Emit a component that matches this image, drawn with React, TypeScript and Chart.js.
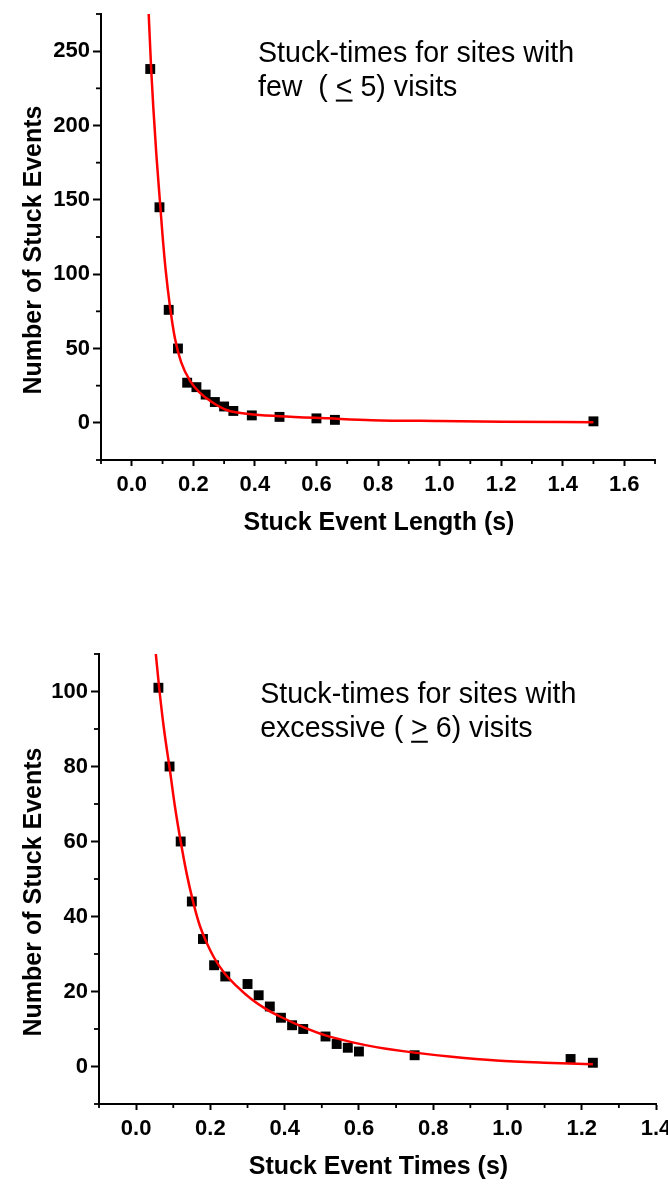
import React, { useEffect, useRef } from 'react';
import { Chart, registerables } from 'chart.js';

Chart.register(...registerables);

// Upper panel: stuck-event lengths for sites with few visits
const fewTimes = [0.06, 0.09, 0.12, 0.15, 0.18, 0.21, 0.24, 0.27, 0.3, 0.33, 0.39, 0.48, 0.6, 0.66, 1.5];
const fewCounts = [238, 145, 76, 50, 27, 24, 19, 14, 11, 8, 5, 4, 3, 2, 1];
const fewFitTimes = [0.055, 0.063, 0.07, 0.08, 0.093, 0.1, 0.11, 0.123, 0.14, 0.16, 0.19, 0.22, 0.26, 0.31, 0.38, 0.48, 0.64, 0.78, 1.0, 1.2, 1.5];
const fewFitCounts = [275, 238, 212, 180, 145, 126, 103, 80, 57, 41, 28, 20.5, 14, 8.5, 6, 4.5, 3, 1.8, 1.2, 0.8, 0.4];
const fewXTicks = [0, 0.2, 0.4, 0.6, 0.8, 1.0, 1.2, 1.4, 1.6];
const fewXMinor = [-0.1, 0.1, 0.3, 0.5, 0.7, 0.9, 1.1, 1.3, 1.5, 1.7];
const fewYTicks = [0, 50, 100, 150, 200, 250];
const fewYMinor = [-25, 25, 75, 125, 175, 225, 275];

// Lower panel: stuck-event times for sites with excessive visits
const excessTimes = [0.06, 0.09, 0.12, 0.15, 0.18, 0.21, 0.24, 0.3, 0.33, 0.36, 0.39, 0.42, 0.45, 0.51, 0.54, 0.57, 0.6, 0.75, 1.17, 1.23];
const excessCounts = [101, 80, 60, 44, 34, 27, 24, 22, 19, 16, 13, 11, 10, 8, 6, 5, 4, 3, 2, 1];
const excessFitTimes = [0.053, 0.062, 0.075, 0.091, 0.105, 0.12, 0.136, 0.152, 0.17, 0.19, 0.21, 0.237, 0.27, 0.31, 0.35, 0.39, 0.45, 0.51, 0.58, 0.65, 0.75, 0.85, 0.97, 1.1, 1.23];
const excessFitCounts = [110, 101, 90, 79, 69, 60, 51.5, 44.5, 38, 33, 29, 25, 21.5, 18, 15.3, 13.2, 10.5, 8.3, 6.5, 5.1, 3.7, 2.6, 1.6, 1.0, 0.6];
const excessXTicks = [0, 0.2, 0.4, 0.6, 0.8, 1.0, 1.2, 1.4];
const excessXMinor = [-0.1, 0.1, 0.3, 0.5, 0.7, 0.9, 1.1, 1.3];
const excessYTicks = [0, 20, 40, 60, 80, 100];
const excessYMinor = [-10, 10, 30, 50, 70, 90, 110];

const FONT = '"Liberation Sans", Arial, Helvetica, sans-serif';

type PanelSpec = {
  times: number[];
  counts: number[];
  fitTimes: number[];
  fitCounts: number[];
  xRange: [number, number];
  yRange: [number, number];
  xTicks: number[];
  xMinor: number[];
  yTicks: number[];
  yMinor: number[];
  xTitle: string;
  yTitle: string;
  noteLine1: string;
  notePre: string;
  noteSym: string;
  notePost: string;
  noteAt: [number, number];
  area: { left: number; top: number; right: number; bottom: number };
  height: number;
};

function buildChart(canvas: HTMLCanvasElement, p: PanelSpec) {
  const decor = {
    id: 'decor',
    afterDraw(chart: any) {
      const { ctx, chartArea } = chart;
      const xs = chart.scales.x;
      const ys = chart.scales.y;
      ctx.save();
      ctx.strokeStyle = '#000';
      ctx.lineWidth = 1.8;
      // minor tick marks
      p.xMinor.forEach((v) => {
        const px = xs.getPixelForValue(v);
        ctx.beginPath();
        ctx.moveTo(px, chartArea.bottom);
        ctx.lineTo(px, chartArea.bottom + 4);
        ctx.stroke();
      });
      p.yMinor.forEach((v) => {
        const py = ys.getPixelForValue(v);
        ctx.beginPath();
        ctx.moveTo(chartArea.left, py);
        ctx.lineTo(chartArea.left - 5, py);
        ctx.stroke();
      });
      // axis titles
      ctx.fillStyle = '#000';
      ctx.font = `bold 25px ${FONT}`;
      ctx.textAlign = 'center';
      ctx.textBaseline = 'alphabetic';
      ctx.fillText(p.xTitle, (chartArea.left + chartArea.right) / 2 + 1, chartArea.bottom + 70);
      ctx.save();
      ctx.translate(41, (chartArea.top + chartArea.bottom) / 2 + 13);
      ctx.rotate(-Math.PI / 2);
      ctx.fillText(p.yTitle, 0, 0);
      ctx.restore();
      // annotation
      ctx.font = `28.6px ${FONT}`;
      ctx.textAlign = 'left';
      const ax = xs.getPixelForValue(p.noteAt[0]);
      const ay = ys.getPixelForValue(p.noteAt[1]);
      ctx.fillText(p.noteLine1, ax, ay);
      const line2 = p.notePre + p.noteSym + p.notePost;
      ctx.fillText(line2, ax, ay + 34);
      const u0 = ax + ctx.measureText(p.notePre).width;
      const uw = ctx.measureText(p.noteSym).width;
      ctx.fillRect(u0, ay + 34 + 4, uw, 2);
      ctx.restore();
    },
  };

  return new Chart(canvas, {
    type: 'scatter',
    data: {
      datasets: [
        {
          label: 'fit',
          data: p.fitTimes.map((t, i) => ({ x: t, y: p.fitCounts[i] })),
          showLine: true,
          borderColor: '#ff0000',
          borderWidth: 2.5,
          pointRadius: 0,
          cubicInterpolationMode: 'monotone',
          fill: false,
        },
        {
          label: 'counts',
          data: p.times.map((t, i) => ({ x: t, y: p.counts[i] })),
          showLine: false,
          pointStyle: 'rect',
          pointRadius: 7,
          pointBackgroundColor: '#000',
          pointBorderWidth: 0,
          pointHoverRadius: 7,
        },
      ],
    },
    options: {
      responsive: false,
      animation: false,
      events: [],
      layout: {
        padding: {
          left: 0,
          top: p.area.top,
          right: 668 - p.area.right,
          bottom: 0,
        },
      },
      plugins: {
        legend: { display: false },
        tooltip: { enabled: false },
        title: { display: false },
      },
      scales: {
        x: {
          type: 'linear',
          position: 'bottom',
          min: p.xRange[0],
          max: p.xRange[1],
          afterBuildTicks: (scale: any) => {
            scale.ticks = p.xTicks.map((v) => ({ value: v }));
          },
          afterFit: (scale: any) => {
            scale.height = p.height - p.area.bottom;
            scale.paddingLeft = 0;
            scale.paddingRight = 0;
          },
          border: { display: true, color: '#000', width: 2 },
          grid: {
            display: true,
            drawOnChartArea: false,
            drawTicks: true,
            tickLength: 6,
            tickWidth: 2,
            tickColor: '#000',
          },
          ticks: {
            autoSkip: false,
            maxRotation: 0,
            padding: 6,
            color: '#000',
            font: { family: FONT, size: 22, weight: 'bold' },
            callback: (v: any) => Number(v).toFixed(1),
          },
        },
        y: {
          type: 'linear',
          position: 'left',
          min: p.yRange[0],
          max: p.yRange[1],
          afterBuildTicks: (scale: any) => {
            scale.ticks = p.yTicks.map((v) => ({ value: v }));
          },
          afterFit: (scale: any) => {
            scale.width = p.area.left;
            scale.paddingTop = 0;
            scale.paddingBottom = 0;
          },
          border: { display: true, color: '#000', width: 2 },
          grid: {
            display: true,
            drawOnChartArea: false,
            drawTicks: true,
            tickLength: 8,
            tickWidth: 2,
            tickColor: '#000',
          },
          ticks: {
            autoSkip: false,
            padding: 3,
            color: '#000',
            font: { family: FONT, size: 22, weight: 'bold' },
            callback: (v: any) => String(v),
          },
        },
      },
    },
    plugins: [decor],
  } as any);
}

const fewPanel: PanelSpec = {
  times: fewTimes,
  counts: fewCounts,
  fitTimes: fewFitTimes,
  fitCounts: fewFitCounts,
  xRange: [-0.1, 1.7],
  yRange: [-25, 275],
  xTicks: fewXTicks,
  xMinor: fewXMinor,
  yTicks: fewYTicks,
  yMinor: fewYMinor,
  xTitle: 'Stuck Event Length (s)',
  yTitle: 'Number of Stuck Events',
  noteLine1: 'Stuck-times for sites with',
  notePre: 'few  ( ',
  noteSym: '<',
  notePost: ' 5) visits',
  noteAt: [0.41, 243],
  area: { left: 101, top: 14, right: 655, bottom: 460 },
  height: 580,
};

const excessPanel: PanelSpec = {
  times: excessTimes,
  counts: excessCounts,
  fitTimes: excessFitTimes,
  fitCounts: excessFitCounts,
  xRange: [-0.1, 1.4],
  yRange: [-10, 110],
  xTicks: excessXTicks,
  xMinor: excessXMinor,
  yTicks: excessYTicks,
  yMinor: excessYMinor,
  xTitle: 'Stuck Event Times (s)',
  yTitle: 'Number of Stuck Events',
  noteLine1: 'Stuck-times for sites with',
  notePre: 'excessive ( ',
  noteSym: '>',
  notePost: ' 6) visits',
  noteAt: [0.334, 97],
  area: { left: 99, top: 74, right: 656, bottom: 524 },
  height: 604,
};

function Panel({ spec, top }: { spec: PanelSpec; top: number }) {
  const ref = useRef<HTMLCanvasElement | null>(null);
  useEffect(() => {
    if (!ref.current) return;
    const chart = buildChart(ref.current, spec);
    return () => chart.destroy();
  }, [spec]);
  return (
    <canvas
      ref={ref}
      width={668}
      height={spec.height}
      style={{ position: 'absolute', left: 0, top, width: 668, height: spec.height, display: 'block' }}
    />
  );
}

export default function App() {
  return (
    <div style={{ position: 'absolute', left: 0, top: 0, width: 668, height: 1184, background: '#fff', overflow: 'hidden' }}>
      <Panel spec={fewPanel} top={0} />
      <Panel spec={excessPanel} top={580} />
    </div>
  );
}
